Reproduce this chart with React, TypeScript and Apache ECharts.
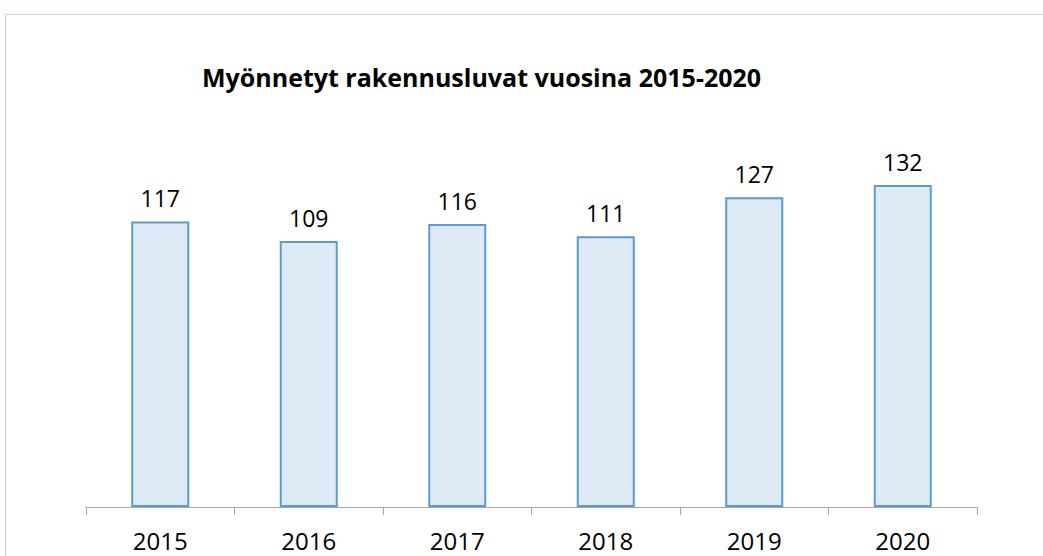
import React, { useEffect, useRef } from "react";
import * as echarts from "echarts";

const categories = ["2015", "2016", "2017", "2018", "2019", "2020"];
const permits = [117, 109, 116, 111, 127, 132];
const chartTitle = "Myönnetyt rakennusluvat vuosina 2015-2020";

export default function App() {
  const ref = useRef<HTMLDivElement>(null);
  useEffect(() => {
    if (!ref.current) return;
    const chart = echarts.init(ref.current, null, { renderer: "svg" });
    chart.setOption({
      animation: false,
      backgroundColor: "#ffffff",
      textStyle: { fontFamily: "Open Sans" },
      title: {
        text: chartTitle,
        left: 202,
        top: 64,
        padding: 0,
        textStyle: { fontFamily: "Open Sans", fontWeight: "bold", fontSize: 25, color: "#000000" },
      },
      graphic: [
        {
          type: "rect",
          shape: { x: 5.5, y: 14.5, width: 1100, height: 700 },
          style: { fill: "none", stroke: "#BDD7EE", lineWidth: 1 },
          silent: true,
        },
      ],
      grid: { left: 86, right: 66, top: 165.5, bottom: 49 },
      xAxis: {
        type: "category",
        data: categories,
        boundaryGap: true,
        axisLine: { show: true, lineStyle: { color: "#A6A6A6", width: 1 } },
        axisTick: { show: true, length: 8, lineStyle: { color: "#A6A6A6" } },
        axisLabel: { color: "#000000", fontSize: 24, margin: 21, fontFamily: "Open Sans" },
      },
      yAxis: {
        type: "value",
        min: 0,
        max: 140,
        show: false,
        splitLine: { show: false },
      },
      series: [
        {
          type: "bar",
          data: permits,
          barWidth: 58,
          itemStyle: { color: "#DEEAF6", borderColor: "#5B9BD5", borderWidth: 2 },
          label: {
            show: true,
            position: "top",
            distance: 12,
            color: "#000000",
            fontSize: 23,
            fontFamily: "Open Sans",
          },
        },
      ],
    });
    return () => chart.dispose();
  }, []);
  return (
    <div
      ref={ref}
      style={{ position: "fixed", left: 0, top: 0, width: 1043, height: 556 }}
    />
  );
}
